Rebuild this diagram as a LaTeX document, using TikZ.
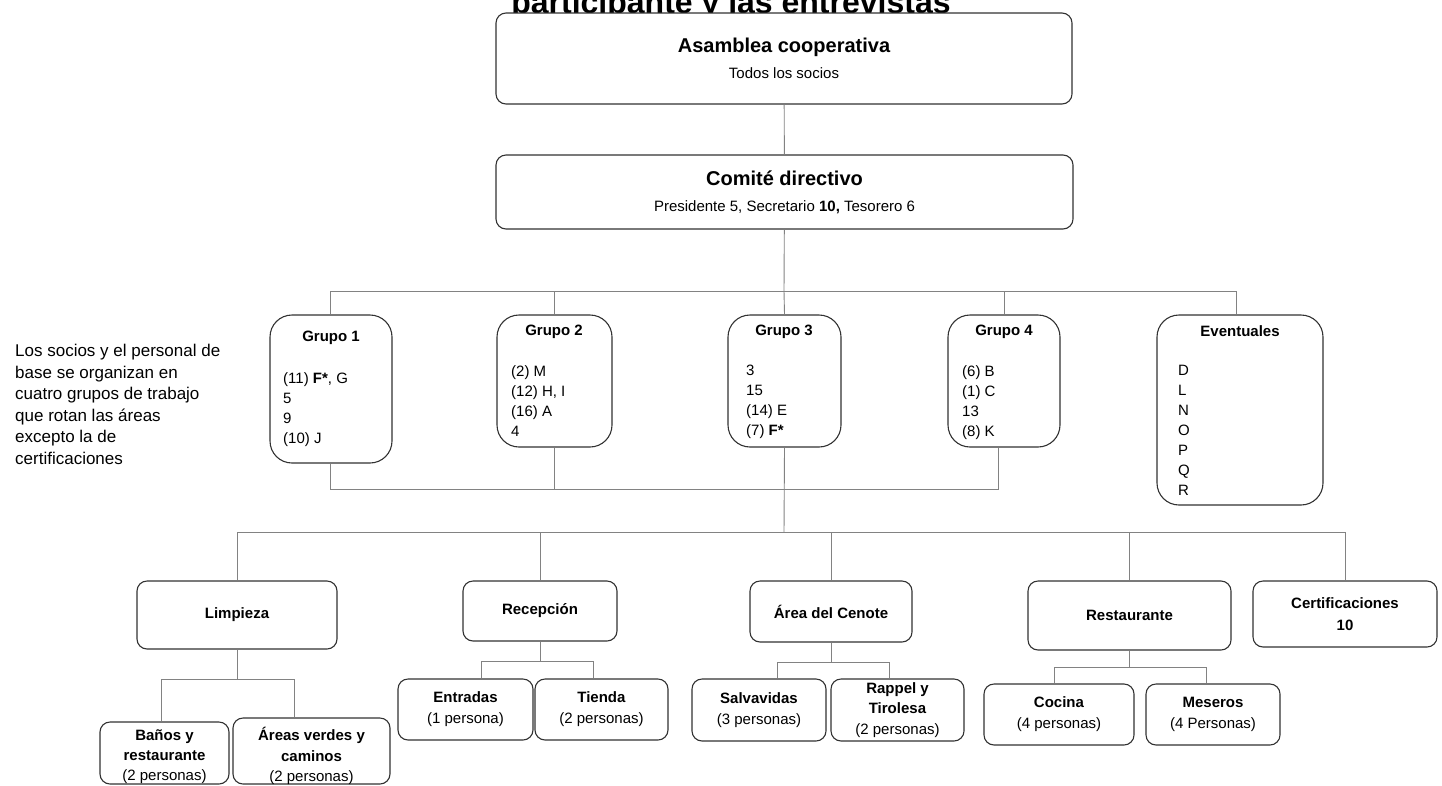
\documentclass[tikz,border=0pt]{standalone}
\usepackage{fontspec}
\setmainfont{Liberation Sans}
\usetikzlibrary{positioning}
\definecolor{LineGray}{RGB}{130,130,130}
\definecolor{BoxEdge}{RGB}{50,50,50}

\begin{document}
\begin{tikzpicture}[
  x=1pt, y=-1pt,
  font=\fontsize{15}{18}\selectfont,
  box/.style={draw=BoxEdge, line width=1.1pt, rounded corners=10pt, fill=white,
              align=center, inner sep=0pt},
  grp/.style={box, rounded corners=22pt},
  hd/.style={font=\fontsize{15}{18}\selectfont\bfseries, inner sep=0pt},
  lst/.style={align=left, anchor=north west, inner sep=0pt,
              font=\fontsize{15}{20}\selectfont},
  sub/.style={box, font=\fontsize{15}{21}\selectfont},
  link/.style={draw=LineGray, line width=0.9pt}
]
\useasboundingbox (0,0) rectangle (1442,785);
\clip (0,0) rectangle (1442,785);

% title, cut by the page edge
\node[font=\fontsize{32}{38}\selectfont\bfseries, anchor=base, inner sep=0pt] (titulo)
  at (731,13) {participante y las entrevistas};

% top of the tree
\node[box, minimum width=576, minimum height=91] (asamblea) at (784,58.5)
  {{\fontsize{20}{24}\selectfont\bfseries Asamblea cooperativa}\\[8pt]Todos los socios};
\node[box, minimum width=577, minimum height=74] (comite) at (784.5,192)
  {{\fontsize{20}{24}\selectfont\bfseries Comité directivo}\\[8pt]Presidente 5, Secretario \textbf{10,} Tesorero 6};
\draw[link] (asamblea) -- (comite);

% work groups
\node[grp, minimum width=122, minimum height=148] (g1) at (331,389) {};
\node[grp, minimum width=115, minimum height=132] (g2) at (554.5,381) {};
\node[grp, minimum width=113, minimum height=132] (g3) at (784.5,381) {};
\node[grp, minimum width=112, minimum height=132] (g4) at (1004,381) {};
\node[grp, minimum width=166, minimum height=190] (ev) at (1240,410) {};

\node[hd] (g1t) at (331,338) {Grupo 1};
\node[hd] (g2t) at (554,332) {Grupo 2};
\node[hd] (g3t) at (784,332) {Grupo 3};
\node[hd] (g4t) at (1004,332) {Grupo 4};
\node[hd] (evt) at (1240,331) {Eventuales};

\node[lst] (g1l) at (283,372) {(11) \textbf{F*}, G\\5\\9\\(10) J};
\node[lst] (g2l) at (511,365) {(2) M\\(12) H, I\\(16) A\\4};
\node[lst] (g3l) at (746,365) {3\\15\\(14) E\\(7) \textbf{F*}};
\node[lst] (g4l) at (962,365) {(6) B\\(1) C\\13\\(8) K};
\node[lst] (evl) at (1178,365) {D\\L\\N\\O\\P\\Q\\R};

\node[align=left, anchor=north west, inner sep=0pt, font=\fontsize{17}{21.5}\selectfont] (nota)
  at (15,344) {Los socios y el personal de\\base se organizan en\\cuatro grupos de trabajo\\que rotan las áreas\\excepto la de\\certificaciones};

\coordinate (bus1) at (784,291);
\coordinate (bus2) at (784,489);
\coordinate (bus3) at (784,532);
\draw[link] (comite) -- (bus1);
\draw[link] ([xshift=-1pt]g1.north) |- (bus1);
\draw[link] (g2.north) |- (bus1);
\draw[link] (bus1) -- (g3.north);
\draw[link] (g4.north) |- (bus1);
\draw[link] ([xshift=-4pt]ev.north) |- (bus1);
\draw[link] ([xshift=-1pt]g1.south) |- (bus2);
\draw[link] (g2.south) |- (bus2);
\draw[link] ([xshift=-6pt]g4.south) |- (bus2);
\draw[link] (g3.south) -- (bus3);

% areas
\node[box, minimum width=200, minimum height=68, font=\fontsize{15}{18}\selectfont\bfseries] (limpieza) at (237,615) {Limpieza};
\node[box, minimum width=154, minimum height=60, font=\fontsize{15}{18}\selectfont\bfseries] (recepcion) at (540,611) {Recepción};
\node[box, minimum width=162, minimum height=61, font=\fontsize{15}{18}\selectfont\bfseries] (cenote) at (831,611.5) {Área del Cenote};
\node[box, minimum width=203, minimum height=69, font=\fontsize{15}{18}\selectfont\bfseries] (restaurante) at (1129.5,615.5) {Restaurante};
\node[box, minimum width=184, minimum height=66, font=\fontsize{15}{22}\selectfont\bfseries] (cert) at (1345,614) {Certificaciones\\10};
\draw[link] (limpieza.north) |- (bus3);
\draw[link] (recepcion.north) |- (bus3);
\draw[link] (cenote.north) |- (bus3);
\draw[link] (restaurante.north) |- (bus3);
\draw[link] (cert.north) |- (bus3);

% sub areas
\node[sub, minimum width=129, minimum height=62] (banos) at (164.5,753) {};
\node[align=center, inner sep=0pt, font=\fontsize{15}{20}\selectfont] (banosT) at (164.5,757)
  {\textbf{Baños y}\\\textbf{restaurante}\\(2 personas)};
\node[sub, minimum width=157, minimum height=66] (verdes) at (311.5,751) {};
\node[align=center, inner sep=0pt, font=\fontsize{15}{20.5}\selectfont] (verdesT) at (311.5,756)
  {\textbf{Áreas verdes y}\\\textbf{caminos}\\(2 personas)};
\node[sub, minimum width=135, minimum height=61] (entradas) at (465.5,709.5) {\textbf{Entradas}\\(1 persona)};
\node[sub, minimum width=133, minimum height=61] (tienda) at (601.5,709.5) {\textbf{Tienda}\\(2 personas)};
\node[sub, minimum width=134, minimum height=62] (salva) at (759,710) {\textbf{Salvavidas}\\(3 personas)};
\node[sub, minimum width=133, minimum height=62, font=\fontsize{15}{20.5}\selectfont] (rappel) at (897.5,710) {\textbf{Rappel y}\\\textbf{Tirolesa}\\(2 personas)};
\node[sub, minimum width=150, minimum height=61] (cocina) at (1059,714.5) {\textbf{Cocina}\\(4 personas)};
\node[sub, minimum width=134, minimum height=61] (meseros) at (1213,714.5) {\textbf{Meseros}\\(4 Personas)};

\coordinate (limpB) at (237,679);
\coordinate (recB) at (540,661);
\coordinate (cenB) at (831,662);
\coordinate (resB) at (1129.5,667);
\draw[link] (limpieza) -- (limpB);
\draw[link] ([xshift=-3pt]banos.north) |- (limpB);
\draw[link] ([xshift=-17pt]verdes.north) |- (limpB);
\draw[link] (recepcion) -- (recB);
\draw[link] ([xshift=16pt]entradas.north) |- (recB);
\draw[link] ([xshift=-8pt]tienda.north) |- (recB);
\draw[link] (cenote) -- (cenB);
\draw[link] ([xshift=18pt]salva.north) |- (cenB);
\draw[link] ([xshift=-8pt]rappel.north) |- (cenB);
\draw[link] (restaurante) -- (resB);
\draw[link] ([xshift=-5pt]cocina.north) |- (resB);
\draw[link] ([xshift=-7pt]meseros.north) |- (resB);
\end{tikzpicture}
\end{document}
